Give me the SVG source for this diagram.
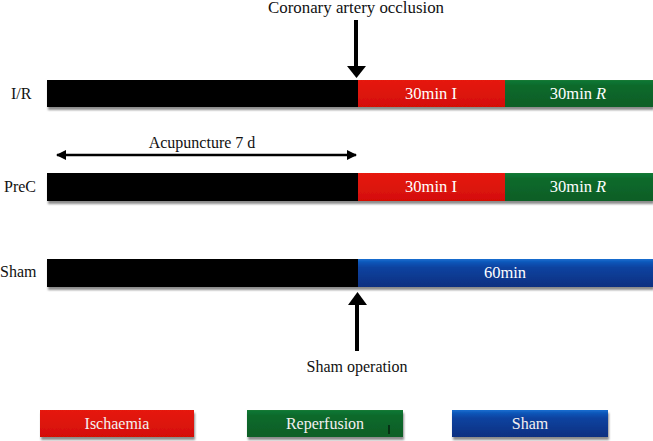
<svg xmlns="http://www.w3.org/2000/svg" width="653" height="441" viewBox="0 0 653 441">
<style>
.lbl{font-family:"Liberation Serif","Times New Roman",serif;font-size:16px;fill:#111;}
.bar{font-family:"Liberation Serif","Times New Roman",serif;font-size:16.5px;fill:#fff;text-anchor:middle;}
.leg{font-family:"Liberation Serif","Times New Roman",serif;font-size:16px;fill:#f4f0f0;text-anchor:middle;}
.conn{stroke:#000;stroke-width:4;fill:none;}
</style>
<defs>
<linearGradient id="gBlue" x1="0" y1="0" x2="0" y2="1">
<stop offset="0" stop-color="#1a6fd0"/><stop offset="0.12" stop-color="#0d55b8"/><stop offset="0.3" stop-color="#0a43a0"/><stop offset="1" stop-color="#072f80"/>
</linearGradient>
<linearGradient id="gGreen" x1="0" y1="0" x2="0" y2="1">
<stop offset="0" stop-color="#137a36"/><stop offset="0.2" stop-color="#0c6a2c"/><stop offset="1" stop-color="#0a5e26"/>
</linearGradient>
<linearGradient id="gRed" x1="0" y1="0" x2="0" y2="1">
<stop offset="0" stop-color="#e61a10"/><stop offset="1" stop-color="#d40e06"/>
</linearGradient>
<filter id="sh" x="-5%" y="-30%" width="110%" height="180%">
<feDropShadow dx="1" dy="3" stdDeviation="1.2" flood-color="#000" flood-opacity="0.45"/>
</filter>
<marker id="ah" viewBox="0 0 10 10" refX="9" refY="5" markerWidth="10" markerHeight="10" markerUnits="userSpaceOnUse" orient="auto-start-reverse">
<path d="M0,0 L10,5 L0,10 z" fill="#000"/>
</marker>
</defs>

<g id="title"><text class="lbl" x="356" y="13" font-size="17" text-anchor="middle" textLength="176" lengthAdjust="spacingAndGlyphs">Coronary artery occlusion</text></g>

<g id="row-IR">
<text class="lbl" x="11" y="99">I/R</text>
<g filter="url(#sh)">
<rect x="47" y="80" width="311" height="27" fill="#000"/>
<rect x="358" y="80" width="147" height="27" fill="url(#gRed)"/>
<rect x="505" y="80" width="148" height="27" fill="url(#gGreen)"/>
</g>
<text class="bar" x="431" y="99">30min I</text>
<text class="bar" x="578" y="99">30min <tspan font-style="italic">R</tspan></text>
</g>

<g id="row-PreC">
<text class="lbl" x="4" y="192">PreC</text>
<g filter="url(#sh)">
<rect x="47" y="173" width="311" height="28" fill="#000"/>
<rect x="358" y="173" width="147" height="28" fill="url(#gRed)"/>
<rect x="505" y="173" width="148" height="28" fill="url(#gGreen)"/>
</g>
<text class="bar" x="431" y="192">30min I</text>
<text class="bar" x="578" y="192">30min <tspan font-style="italic">R</tspan></text>
</g>

<g id="row-Sham">
<text class="lbl" x="0" y="277">Sham</text>
<g filter="url(#sh)">
<rect x="47" y="259" width="311" height="28" fill="#000"/>
<rect x="358" y="259" width="295" height="28" fill="url(#gBlue)"/>
</g>
<text class="bar" x="505" y="278">60min</text>
</g>

<g id="acupuncture"><text class="lbl" x="202" y="148" text-anchor="middle" font-size="16.5">Acupuncture 7 d</text></g>
<g id="sham-op"><text class="lbl" x="357" y="372" text-anchor="middle" font-size="16.5">Sham operation</text></g>

<g id="connectors">
<line x1="356" y1="20" x2="356" y2="68" class="conn"/>
<path d="M347,66 L366,66 L356.5,78 z" fill="#000"/>
<line x1="57" y1="155" x2="356" y2="155" stroke="#000" stroke-width="2.5" marker-start="url(#ah)" marker-end="url(#ah)"/>
<line x1="357" y1="303" x2="357" y2="351" class="conn"/>
<path d="M348,305 L367,305 L357.5,292 z" fill="#000"/>
</g>

<g id="legend-ischaemia">
<rect x="40" y="410" width="154" height="27" fill="url(#gRed)" filter="url(#sh)"/>
<text class="leg" x="117" y="429">Ischaemia</text>
</g>
<g id="legend-reperfusion">
<rect x="247" y="410" width="156" height="27" fill="url(#gGreen)" filter="url(#sh)"/>
<text class="leg" x="325" y="429">Reperfusion</text>
<line x1="389" y1="425" x2="389" y2="434" stroke="#000" stroke-width="1"/>
</g>
<g id="legend-sham">
<rect x="452" y="410" width="156" height="27" fill="url(#gBlue)" filter="url(#sh)"/>
<text class="leg" x="530" y="429">Sham</text>
</g>
</svg>
